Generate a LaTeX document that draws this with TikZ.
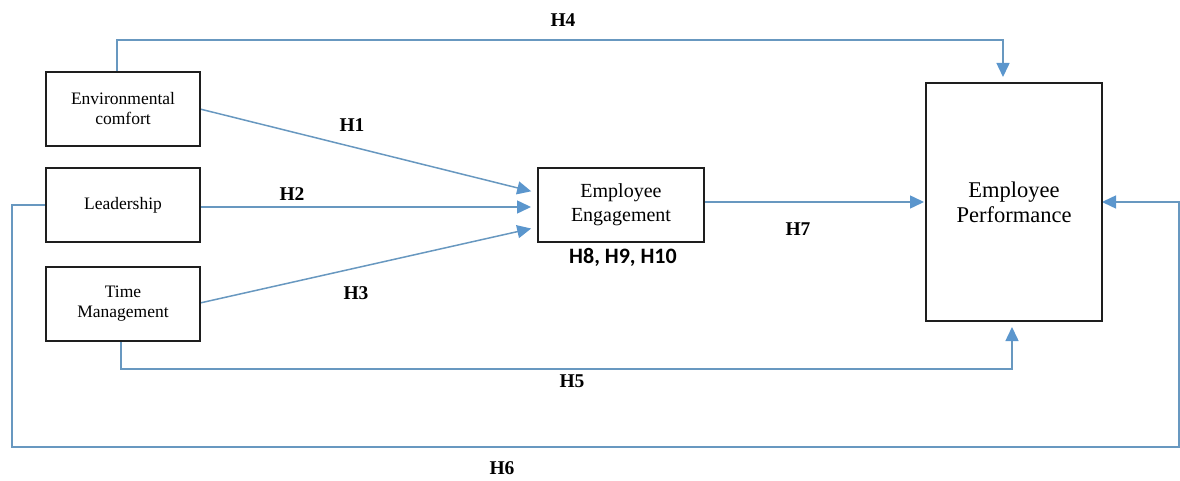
\documentclass[tikz,border=0pt]{standalone}
\usepackage{fontspec}
\setmainfont{Liberation Serif}
\newfontfamily\carl{Carlito}
\usetikzlibrary{arrows.meta,calc}
\pgfdeclarelayer{bg}
\pgfsetlayers{bg,main}
\definecolor{conncol}{RGB}{104,152,192}
\definecolor{tipcol}{RGB}{91,150,205}
\definecolor{boxcol}{RGB}{30,30,30}
\tikzset{
  box/.style={draw=boxcol,line width=1.6pt,fill=white,inner sep=0pt,outer sep=0pt,align=center,font=\fontsize{17.5}{20}\selectfont},
  conn/.style={draw=conncol,line width=1.5pt,-{Triangle[length=14pt,width=13pt,color=tipcol]}},
  hlab/.style={font=\bfseries\fontsize{19.5}{22}\selectfont,inner sep=0pt},
}
\begin{document}
\begin{tikzpicture}[x=1pt,y=-1pt]
\useasboundingbox (0,0) rectangle (1180,481);
\node[box,minimum width=154pt,minimum height=74pt] (env) at (123,109) {Environmental\\comfort};
\node[box,minimum width=154pt,minimum height=74pt] (lead) at (123,205) {Leadership};
\node[box,minimum width=154pt,minimum height=74pt] (time) at (123,304) {Time\\Management};
\node[box,minimum width=166pt,minimum height=74pt,font=\fontsize{20}{24}\selectfont] (eng) at (621,205) {Employee\\Engagement};
\node[box,minimum width=176pt,minimum height=238pt,font=\fontsize{22.5}{25}\selectfont] (perf) at (1014,202) {Employee\\Performance};
\coordinate (h4a) at (117,40);
\coordinate (h4b) at (1003,40);
\coordinate (h5a) at (121,369);
\coordinate (h5b) at (1012,369);
\coordinate (h6a) at (12,205);
\coordinate (h6b) at (12,447);
\coordinate (h6c) at (1179,447);
\coordinate (h6d) at (1179,202);
\begin{pgfonlayer}{bg}
% H4
\draw[conn,shorten >=6pt] (env.north -| h4a) -- (h4a) -- (h4b) -- (perf.north -| h4b);
% H1, H2, H3
\draw[conn,shorten >=7pt] (env.east) -- ([yshift=12pt]eng.west);
\draw[conn,shorten >=7pt] ([yshift=-2pt]lead.east) -- ([yshift=-2pt]eng.west);
\draw[conn,shorten >=7pt] ([yshift=1pt]time.east) -- ([yshift=-22pt]eng.west);
% H7
\draw[conn,shorten >=2pt] (eng.east |- perf.west) -- (perf.west);
% H5
\draw[conn,shorten >=6pt] (time.south -| h5a) -- (h5a) -- (h5b) -- (perf.south -| h5b);
% H6
\draw[conn] (lead.west) -- (h6a) -- (h6b) -- (h6c) -- (h6d) -- (perf.east);
\end{pgfonlayer}
% labels
\node[hlab] (l4) at (563,20) {H4};
\node[hlab] (l1) at (352,125) {H1};
\node[hlab] (l2) at (292,194) {H2};
\node[hlab] (l3) at (356,293) {H3};
\node[hlab] (l7) at (798,229) {H7};
\node[inner sep=0pt,font=\carl\bfseries\fontsize{22}{24}\selectfont] (l8) at (623,257) {H8, H9, H10};
\node[hlab] (l5) at (572,381) {H5};
\node[hlab] (l6) at (502,468) {H6};
\end{tikzpicture}
\end{document}
